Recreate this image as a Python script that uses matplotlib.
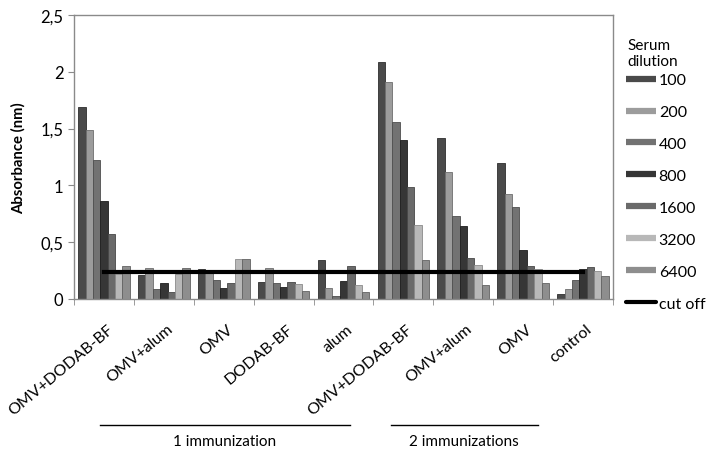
import matplotlib

matplotlib.use("Agg")

import matplotlib.pyplot as plt
import numpy as np
from matplotlib.lines import Line2D

plt.rcParams["font.family"] = ["Lato", "DejaVu Sans"]

GRID = "#8a8a8a"

groups = ["OMV+DODAB-BF", "OMV+alum", "OMV", "DODAB-BF", "alum",
          "OMV+DODAB-BF", "OMV+alum", "OMV", "control"]
dilutions = ["100", "200", "400", "800", "1600", "3200", "6400"]

d100 = [1.69, 0.21, 0.26, 0.15, 0.34, 2.09, 1.42, 1.20, 0.04]
d200 = [1.49, 0.27, 0.23, 0.27, 0.10, 1.91, 1.12, 0.92, 0.09]
d400 = [1.22, 0.09, 0.17, 0.14, 0.03, 1.56, 0.73, 0.81, 0.17]
d800 = [0.86, 0.14, 0.10, 0.11, 0.16, 1.40, 0.64, 0.43, 0.26]
d1600 = [0.57, 0.06, 0.14, 0.15, 0.29, 0.99, 0.36, 0.29, 0.28]
d3200 = [0.22, 0.22, 0.35, 0.13, 0.12, 0.65, 0.30, 0.26, 0.25]
d6400 = [0.29, 0.27, 0.35, 0.07, 0.06, 0.345, 0.125, 0.14, 0.20]
series = [d100, d200, d400, d800, d1600, d3200, d6400]

cut_off = [0.24] * len(groups)

y_ticks = [0, 0.5, 1, 1.5, 2, 2.5]
y_labels = ["0", "0,5", "1", "1,5", "2", "2,5"]

# dark/light greys standing in for the bevelled Excel fills
colours = ["#4a4a4a", "#9c9c9c", "#727272", "#363636",
           "#6a6a6a", "#b8b8b8", "#8e8e8e"]
edges = ["#2e2e2e", "#6e6e6e", "#4e4e4e", "#1e1e1e",
         "#484848", "#8a8a8a", "#626262"]

fig = plt.figure(figsize=(7.2, 4.6), dpi=100)
ax = fig.add_axes([74 / 720, 1 - 300 / 460, 539 / 720, 284 / 460])

x = np.arange(len(groups))
w = 0.123
for j, vals in enumerate(series):
    ax.bar(x + (j - 3) * w, vals, width=w, color=colours[j],
           edgecolor=edges[j], linewidth=0.6, zorder=2)

ax.plot(x, cut_off, color="black", linewidth=3, zorder=3)

ax.set_xlim(-0.5, len(groups) - 0.5)
ax.set_ylim(0, 2.5)
ax.set_yticks(y_ticks)
ax.set_yticklabels(y_labels, fontsize=12)
ax.set_ylabel("Absorbance (nm)", fontsize=10.7, fontweight="bold", labelpad=11)

# labels sit a little right of the group centre, like the Excel original
ax.set_xticks(x + 0.12)
ax.set_xticklabels(groups, rotation=40, ha="right", va="center",
                   rotation_mode="anchor", fontsize=11.5)
ax.tick_params(axis="x", which="major", length=0, pad=20)
ax.set_xticks(np.arange(len(groups) + 1) - 0.5, minor=True)
ax.tick_params(axis="x", which="minor", length=4, color=GRID, direction="out")
ax.tick_params(axis="y", length=4, color=GRID, direction="out")

for s in ax.spines.values():
    s.set_color(GRID)
    s.set_linewidth(1.0)

handles = [Line2D([], [], color=colours[j], linewidth=4.5,
                  solid_capstyle="butt") for j in range(len(dilutions))]
handles.append(Line2D([], [], color="black", linewidth=3,
                      solid_capstyle="round"))
fig.legend(handles, dilutions + ["cut off"], loc="upper left",
           bbox_to_anchor=(626 / 720, 1 - 74 / 460), frameon=False,
           fontsize=11.5, handlelength=1.9, handletextpad=0.15,
           labelspacing=1.11, borderaxespad=0, borderpad=0)
fig.text(627 / 720, 1 - 54 / 460, "Serum\ndilution", ha="left",
         va="center", fontsize=11, linespacing=1.25)

# group brackets under the axis
fig.add_artist(Line2D([100 / 720, 350 / 720], [1 - 426 / 460] * 2,
                      transform=fig.transFigure, color="black", linewidth=1))
fig.add_artist(Line2D([391 / 720, 538 / 720], [1 - 426 / 460] * 2,
                      transform=fig.transFigure, color="black", linewidth=1))
fig.text(225 / 720, 1 - 442 / 460, "1 immunization", ha="center",
         va="center", fontsize=11)
fig.text(464 / 720, 1 - 442 / 460, "2 immunizations", ha="center",
         va="center", fontsize=11)

fig.savefig("out.png", dpi=100, facecolor="white")
